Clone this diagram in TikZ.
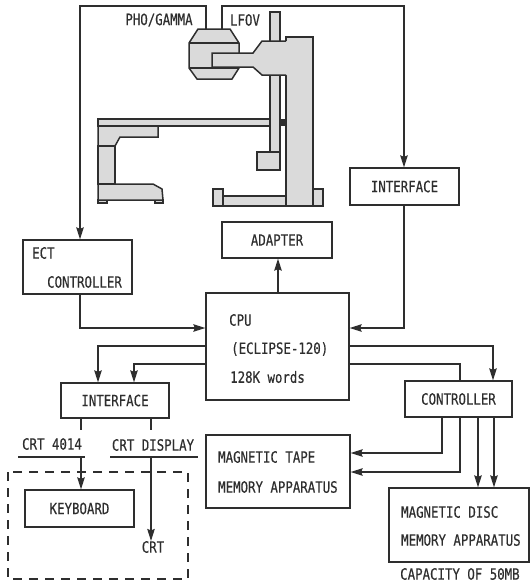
\documentclass[tikz,border=0pt]{standalone}
\usepackage{fontspec}
\setmainfont[FakeStretch=0.8,FakeBold=0.4]{DejaVu Sans Mono}
\usetikzlibrary{arrows.meta}
\definecolor{ink}{HTML}{2E2E2E}
\definecolor{partgrey}{HTML}{DADADA}
\tikzset{
  >={Stealth[length=12pt,width=7.5pt,inset=1.5pt]},
  wire/.style={draw=ink,line width=1.2pt},
  blockbox/.style={draw=ink,line width=1.3pt,inner sep=0pt,font=\fontsize{15.5}{17}\selectfont,text=ink},
  lbl/.style={inner sep=0pt,font=\fontsize{15.5}{17}\selectfont,text=ink},
  part/.style={draw=ink,fill=partgrey,line width=1.5pt}
}
\begin{document}
\begin{tikzpicture}[x=1pt,y=-1pt]
  \useasboundingbox (0,0) rectangle (530,584);
  % Gantry and couch
  \draw[part] (270,12) rectangle (280,152);
  \draw[part] (257,152) rectangle (280,170);
  \draw[part] (213,189) rectangle (223,206);
  \draw[part] (313,189) rectangle (323,206);
  \draw[part] (223,196) rectangle (313,206);
  \draw[part] (286,37) rectangle (313,206);
  \fill[ink] (280,119) rectangle (286,126);
  \draw[part] (198,29) -- (230,29) -- (239,43) -- (239,68) -- (232,79) -- (197,79)
    -- (189,68) -- (189,43) -- cycle;
  \draw[part] (189,43) -- (239,43);
  \draw[part] (189,68) -- (239,68);
  \fill[partgrey] (212,53) -- (253,53) -- (262,41) -- (288,41) -- (288,75) -- (262,75)
    -- (253,67) -- (212,67) -- cycle;
  \draw[part,fill=none] (286,41) -- (262,41) -- (253,53) -- (212,53) -- (212,67) -- (253,67)
    -- (262,75) -- (286,75);
  \draw[part] (98,119) rectangle (270,126);
  \draw[part] (98,126) -- (158,126) -- (158,137) -- (120,137) -- (115,146) -- (98,146) -- cycle;
  \draw[part] (98,146) rectangle (115,184);
  \draw[part] (98,200) rectangle (107,203);
  \draw[part] (155,200) rectangle (163,203);
  \draw[part] (98,184) -- (153,184) -- (162,189) -- (163,200) -- (98,200) -- cycle;
  % Blocks
  \node[blockbox,minimum width=109pt,minimum height=37pt] (ifup) at (404.5,186.5) {INTERFACE};
  \node[blockbox,minimum width=110pt,minimum height=36pt] (adapter) at (277,240) {ADAPTER};
  \node[blockbox,minimum width=109pt,minimum height=54pt] (ect) at (77.5,267) {};
  \node[blockbox,minimum width=143pt,minimum height=107pt] (cpu) at (277.5,346.5) {};
  \node[blockbox,minimum width=108pt,minimum height=35pt] (iflow) at (115,400.5) {INTERFACE};
  \node[blockbox,minimum width=107pt,minimum height=36pt] (ctrl) at (458.5,399) {CONTROLLER};
  \node[blockbox,minimum width=144pt,minimum height=73pt] (tape) at (278,471.5) {};
  \node[blockbox,minimum width=109pt,minimum height=37pt] (keyb) at (79.5,508.5) {KEYBOARD};
  \node[blockbox,minimum width=140pt,minimum height=74pt] (disc) at (459,525) {};
  \draw[wire,dashed,dash pattern=on 9pt off 7pt] (8,472) rectangle (188,579);
  % Texts
  \node[lbl] (pho) at (159,20) {PHO/GAMMA};
  \node[lbl] (lfov) at (245,20) {LFOV};
  \node[lbl,anchor=west] (ecta) at (32,253) {ECT};
  \node[lbl,anchor=west] (ectb) at (47,282) {CONTROLLER};
  \node[lbl,anchor=west] (cpua) at (229,320) {CPU};
  \node[lbl,anchor=west] (cpub) at (231,349) {(ECLIPSE-120)};
  \node[lbl,anchor=west] (cpuc) at (230,377) {128K words};
  \node[lbl,anchor=west] (tapea) at (218,457) {MAGNETIC TAPE};
  \node[lbl,anchor=west] (tapeb) at (218,487) {MEMORY APPARATUS};
  \node[lbl,anchor=west] (disca) at (401,512) {MAGNETIC DISC};
  \node[lbl,anchor=west] (discb) at (401,540) {MEMORY APPARATUS};
  \node[lbl,anchor=west] (capa) at (400,574) {CAPACITY OF 50MB};
  \node[lbl] (crta) at (52,444) {CRT 4014};
  \node[lbl] (crtb) at (153,445) {CRT DISPLAY};
  \node[lbl] (crt) at (153,547) {CRT};
  % Wires from the head
  \coordinate (hl) at (206,29);
  \coordinate (hr) at (222,29);
  \draw[wire,->] (hl) |- (80,6) -- (ect.north -| 80,0);
  \draw[wire,->] (hr) |- (404,6) -- (ifup.north -| 404,0);
  \draw[wire,->] (ifup.south -| 404,0) |- ([yshift=18.5pt]cpu.east);
  \draw[wire,->] (ect.south -| 80,0) |- ([yshift=18.5pt]cpu.west);
  \draw[wire,->] (cpu.north -| 278,0) -- (adapter.south -| 278,0);
  % CPU to the lower blocks
  \draw[wire,->] ([yshift=0.5pt]cpu.west) -| (iflow.north -| 98,0);
  \draw[wire,->] ([yshift=-17.5pt]cpu.west) -| (iflow.north -| 134,0);
  \draw[wire,->] ([yshift=0.5pt]cpu.east) -| (ctrl.north -| 493,0);
  \draw[wire] ([yshift=-17.5pt]cpu.east) -| (ctrl.north -| 460,0);
  \draw[wire,->] (ctrl.south -| 442,0) |- ([yshift=18.5pt]tape.east);
  \draw[wire,->] (ctrl.south -| 460,0) |- ([yshift=-0.5pt]tape.east);
  \draw[wire,->] (ctrl.south -| 478,0) -- (disc.north -| 478,0);
  \draw[wire,->] (ctrl.south -| 494,0) -- (disc.north -| 494,0);
  % CRT lines
  \coordinate (ula) at (18,457);
  \coordinate (ulb) at (85,457);
  \coordinate (ulc) at (110,457);
  \coordinate (uld) at (198,457);
  \draw[wire] (ula) -- (ulb);
  \draw[wire] (ulc) -- (uld);
  \draw[wire] (iflow.south -| 81,0) -- (81,430);
  \draw[wire] (iflow.south -| 151,0) -- (151,430);
  \draw[wire,->] (81,457) -- (keyb.north -| 81,0);
  \draw[wire,->] (151,457) -- (crt.north -| 151,0);
\end{tikzpicture}
\end{document}
